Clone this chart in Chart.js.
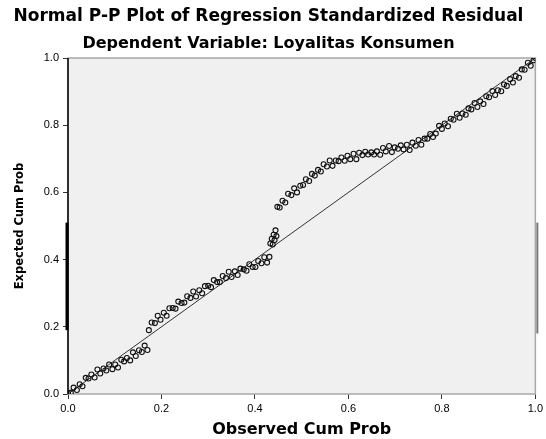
<!DOCTYPE html>
<html>
<head>
<meta charset="utf-8">
<title>Normal P-P Plot</title>
<script src="https://cdn.jsdelivr.net/npm/chart.js@4.4.1/dist/chart.umd.min.js"></script>
<style>
  html, body { margin: 0; padding: 0; background: #fff; }
  #wrap { width: 546px; height: 439px; }
</style>
</head>
<body>
<div id="wrap"><canvas id="ppChart" width="546" height="439"></canvas></div>
<script>
// Observed cum prob (x) and expected cum prob (y)
const observed = [
  0.000, 0.006, 0.012, 0.019, 0.025, 0.031, 0.038, 0.044, 0.050, 0.057,
  0.063, 0.069, 0.076, 0.082, 0.088, 0.095, 0.101, 0.107, 0.114, 0.120,
  0.126, 0.133, 0.139, 0.145, 0.152, 0.158, 0.164, 0.170,
  0.173, 0.179, 0.186, 0.192, 0.198, 0.205, 0.211, 0.217, 0.224, 0.230,
  0.236, 0.243, 0.249, 0.255, 0.262, 0.268, 0.274, 0.281, 0.287, 0.293,
  0.300, 0.306, 0.312, 0.319, 0.325, 0.331, 0.338, 0.344, 0.350, 0.357,
  0.363, 0.369, 0.376, 0.382, 0.388, 0.395, 0.401, 0.407, 0.414, 0.420,
  0.426, 0.431,
  0.433, 0.436, 0.438, 0.440, 0.442, 0.444, 0.446,
  0.448, 0.453, 0.459, 0.465, 0.471, 0.478, 0.484, 0.490, 0.497, 0.503,
  0.509, 0.516, 0.522, 0.528, 0.535, 0.541, 0.547, 0.554, 0.560, 0.566,
  0.573, 0.579, 0.585, 0.592, 0.598, 0.604, 0.611, 0.617, 0.623, 0.630,
  0.636, 0.642, 0.649, 0.655, 0.661, 0.668, 0.674, 0.680, 0.687, 0.693,
  0.699, 0.706, 0.712, 0.718, 0.725, 0.731, 0.737, 0.744, 0.750, 0.756,
  0.763, 0.769, 0.775, 0.781,
  0.787, 0.794, 0.800, 0.806, 0.813, 0.819, 0.825, 0.832, 0.838, 0.844,
  0.851, 0.857, 0.863, 0.870, 0.876, 0.882, 0.889, 0.895, 0.901, 0.908,
  0.914, 0.920, 0.927, 0.933, 0.939, 0.946, 0.952, 0.958, 0.965, 0.971,
  0.977, 0.984, 0.990, 0.996, 1.000
];
const expected = [
  0.003, 0.004, 0.019, 0.012, 0.029, 0.023, 0.048, 0.046, 0.058, 0.049,
  0.073, 0.061, 0.076, 0.070, 0.088, 0.074, 0.088, 0.079, 0.102, 0.097,
  0.107, 0.100, 0.124, 0.113, 0.130, 0.125, 0.144, 0.131,
  0.190, 0.213, 0.211, 0.233, 0.221, 0.242, 0.233, 0.255, 0.256, 0.254,
  0.275, 0.271, 0.272, 0.291, 0.286, 0.305, 0.290, 0.309, 0.300, 0.321,
  0.322, 0.318, 0.339, 0.333, 0.333, 0.351, 0.345, 0.364, 0.348, 0.365,
  0.354, 0.373, 0.371, 0.367, 0.386, 0.378, 0.378, 0.396, 0.389, 0.407,
  0.391, 0.408,
  0.448, 0.462, 0.445, 0.474, 0.458, 0.487, 0.470,
  0.557, 0.555, 0.575, 0.570, 0.596, 0.592, 0.612, 0.600, 0.620, 0.622,
  0.639, 0.634, 0.655, 0.650, 0.667, 0.662, 0.684, 0.677, 0.695, 0.679,
  0.695, 0.693, 0.704, 0.694, 0.709, 0.699, 0.715, 0.699, 0.718, 0.711,
  0.721, 0.713, 0.719, 0.713, 0.722, 0.712, 0.732, 0.722, 0.738, 0.720,
  0.734, 0.730, 0.740, 0.728, 0.742, 0.726, 0.748, 0.739, 0.756, 0.742,
  0.760, 0.760, 0.774, 0.765,
  0.775, 0.798, 0.789, 0.805, 0.797, 0.819, 0.816, 0.834, 0.822, 0.835,
  0.831, 0.850, 0.847, 0.866, 0.854, 0.871, 0.863, 0.886, 0.883, 0.902,
  0.890, 0.904, 0.901, 0.921, 0.917, 0.937, 0.927, 0.946, 0.941, 0.966,
  0.965, 0.986, 0.977, 0.993, 1.000
];

// Diagonal reference line end points
const refLine = [0, 1];

// Axis ticks
const tickValues = [0, 0.2, 0.4, 0.6, 0.8, 1.0];

const FONT = "'Liberation Sans', Arial, sans-serif";
const TITLE_FONT = "'DejaVu Sans', 'Liberation Sans', sans-serif";

// Grey plot background + frame, like the SPSS chart
const plotFrame = {
  id: 'plotFrame',
  beforeDatasetsDraw(chart) {
    const { ctx, chartArea: a, scales } = chart;
    ctx.save();
    ctx.fillStyle = '#f0f0f0';
    ctx.fillRect(a.left, a.top, a.right - a.left, a.bottom - a.top);
    ctx.strokeStyle = '#a8a8a8';
    ctx.lineWidth = 1.5;
    ctx.strokeRect(a.left, a.top, a.right - a.left, a.bottom - a.top);
    // left axis in black, darker band in the middle of it
    ctx.strokeStyle = '#000';
    ctx.lineWidth = 1.5;
    ctx.beginPath();
    ctx.moveTo(a.left, a.top);
    ctx.lineTo(a.left, a.bottom);
    ctx.stroke();
    ctx.lineWidth = 3;
    ctx.beginPath();
    ctx.moveTo(a.left - 1, scales.y.getPixelForValue(0.19));
    ctx.lineTo(a.left - 1, scales.y.getPixelForValue(0.51));
    ctx.stroke();
    // right edge shading
    ctx.strokeStyle = '#777';
    ctx.lineWidth = 2;
    ctx.beginPath();
    ctx.moveTo(a.right + 2, scales.y.getPixelForValue(0.18));
    ctx.lineTo(a.right + 2, scales.y.getPixelForValue(0.51));
    ctx.stroke();
    ctx.restore();
  }
};

const ctx = document.getElementById('ppChart').getContext('2d');

new Chart(ctx, {
  type: 'scatter',
  data: {
    datasets: [
      {
        label: 'Residual',
        data: observed.map((x, i) => ({ x: x, y: expected[i] })),
        pointStyle: 'circle',
        pointRadius: 2.5,
        borderWidth: 1.1,
        borderColor: '#111',
        backgroundColor: 'rgba(0,0,0,0)'
      },
      {
        label: 'Reference',
        type: 'line',
        data: refLine.map(v => ({ x: v, y: v })),
        borderColor: '#333',
        borderWidth: 1,
        pointRadius: 0,
        fill: false
      }
    ]
  },
  options: {
    responsive: false,
    animation: false,
    layout: { padding: { left: 0, right: 9, top: 0, bottom: 0 } },
    plugins: {
      legend: { display: false },
      tooltip: { enabled: false },
      title: {
        display: true,
        text: 'Normal P-P Plot of Regression Standardized Residual',
        color: '#000',
        font: { family: TITLE_FONT, size: 17, weight: 'bold' },
        padding: { top: 6, bottom: 1 }
      },
      subtitle: {
        display: true,
        text: 'Dependent Variable: Loyalitas Konsumen',
        color: '#000',
        font: { family: TITLE_FONT, size: 16, weight: 'bold' },
        padding: { top: 7, bottom: 4.4 }
      }
    },
    scales: {
      x: {
        type: 'linear',
        min: 0,
        max: 1,
        afterBuildTicks: scale => { scale.ticks = tickValues.map(v => ({ value: v })); },
        afterFit: scale => { scale.height = 45; },
        border: { display: false },
        grid: { drawOnChartArea: false, drawTicks: true, tickLength: 5, color: '#333' },
        ticks: {
          color: '#000',
          padding: 3,
          font: { family: FONT, size: 11 },
          callback: v => v.toFixed(1)
        },
        title: {
          display: true,
          text: 'Observed Cum Prob',
          color: '#000',
          font: { family: TITLE_FONT, size: 16, weight: 'bold' },
          padding: { top: 0, bottom: 0 }
        }
      },
      y: {
        type: 'linear',
        min: 0,
        max: 1,
        afterBuildTicks: scale => { scale.ticks = tickValues.map(v => ({ value: v })); },
        afterFit: scale => { scale.width = 68; },
        border: { display: false },
        grid: { drawOnChartArea: false, drawTicks: true, tickLength: 5, color: '#333' },
        ticks: {
          color: '#000',
          padding: 4,
          font: { family: FONT, size: 11 },
          callback: v => v.toFixed(1)
        },
        title: {
          display: true,
          text: 'Expected Cum Prob',
          color: '#000',
          font: { family: TITLE_FONT, size: 11.5, weight: 'bold' },
          padding: { top: 13, bottom: 0 }
        }
      }
    }
  },
  plugins: [plotFrame]
});
</script>
</body>
</html>
